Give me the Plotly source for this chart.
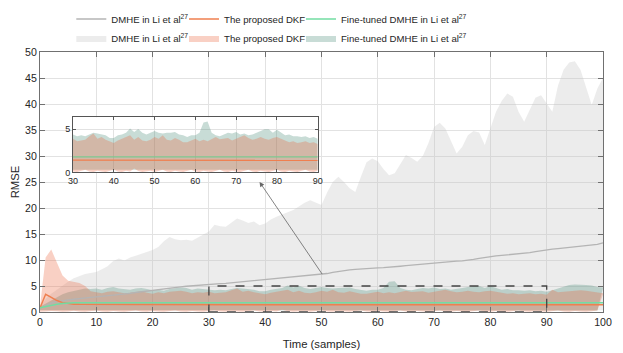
import plotly.graph_objects as go

t = list(range(101))

dmhe_mean = [0.8, 1.3, 1.7, 2.0, 2.2, 2.35, 2.45, 2.6, 2.7, 2.8, 2.9, 3.0, 3.1, 3.25, 3.4, 3.5, 3.6, 3.75, 3.9, 4.05, 4.2,
             4.3, 4.4, 4.55, 4.7, 4.85, 4.95, 5.05, 5.15, 5.25, 5.35, 5.4, 5.45, 5.5, 5.6, 5.7, 5.8, 5.9, 6.0, 6.1, 6.2,
             6.3, 6.4, 6.5, 6.6, 6.7, 6.8, 6.9, 7.0, 7.1, 7.2, 7.4, 7.6, 7.8, 7.95, 8.1, 8.2, 8.3, 8.4, 8.45, 8.5,
             8.55, 8.6, 8.7, 8.8, 8.9, 9.0, 9.1, 9.25, 9.4, 9.5, 9.6, 9.65, 9.7, 9.8, 9.85, 9.95, 10.1, 10.3, 10.5, 10.7,
             10.8, 10.9, 11.0, 11.05, 11.1, 11.2, 11.4, 11.6, 11.8, 12.0, 12.1, 12.2, 12.3, 12.4, 12.5, 12.6, 12.7, 12.8, 13.0, 13.3]

dkf_mean = [0.8, 3.4, 2.8, 2.2, 1.8, 1.6, 1.5, 1.47, 1.45, 1.45, 1.44, 1.44, 1.43, 1.43, 1.43, 1.42, 1.42, 1.42, 1.42, 1.42, 1.42,
            1.42, 1.42, 1.42, 1.42, 1.42, 1.42, 1.42, 1.42, 1.42, 1.42, 1.42, 1.42, 1.42, 1.42, 1.42, 1.42, 1.42, 1.42, 1.42, 1.42,
            1.42, 1.42, 1.42, 1.42, 1.42, 1.42, 1.42, 1.42, 1.42, 1.42, 1.42, 1.42, 1.42, 1.42, 1.42, 1.42, 1.41, 1.41, 1.41, 1.41,
            1.41, 1.41, 1.41, 1.41, 1.41, 1.41, 1.4, 1.4, 1.4, 1.4, 1.4, 1.4, 1.4, 1.4, 1.4, 1.4, 1.4, 1.4, 1.4, 1.4,
            1.4, 1.4, 1.4, 1.4, 1.4, 1.4, 1.4, 1.4, 1.4, 1.4, 1.4, 1.4, 1.4, 1.4, 1.4, 1.4, 1.4, 1.4, 1.4, 1.4, 1.4]

ft_mean = [0.8, 1.05, 1.3, 1.5, 1.65, 1.75, 1.78, 1.8, 1.8, 1.8, 1.8, 1.8, 1.8, 1.8, 1.8, 1.8, 1.8, 1.8, 1.8, 1.8, 1.8,
           1.8, 1.8, 1.8, 1.8, 1.8, 1.8, 1.8, 1.8, 1.8, 1.8, 1.8, 1.8, 1.8, 1.8, 1.8, 1.8, 1.8, 1.8, 1.8, 1.8,
           1.8, 1.8, 1.8, 1.8, 1.8, 1.8, 1.8, 1.8, 1.8, 1.8, 1.8, 1.8, 1.8, 1.8, 1.8, 1.8, 1.8, 1.8, 1.8, 1.8,
           1.8, 1.8, 1.8, 1.8, 1.8, 1.8, 1.8, 1.8, 1.8, 1.8, 1.8, 1.8, 1.8, 1.8, 1.8, 1.8, 1.8, 1.8, 1.8, 1.8,
           1.8, 1.8, 1.8, 1.8, 1.8, 1.8, 1.8, 1.8, 1.8, 1.8, 1.8, 1.8, 1.8, 1.8, 1.8, 1.8, 1.8, 1.8, 1.8, 1.8, 1.8]

dmhe_up = [1.0, 2.5, 3.5, 4.3, 5.0, 5.8, 6.5, 6.9, 7.3, 7.5, 7.7, 8.2, 8.8, 9.8, 10.3, 9.9, 10.5, 10.8, 11.2, 11.5, 11.9,
           12.5, 13.6, 14.4, 14.0, 13.8, 13.9, 13.7, 14.3, 14.8, 15.5, 16.8, 16.5, 16.4, 17.2, 18.0, 17.6, 17.1, 17.4, 16.7, 17.0,
           17.8, 18.3, 18.8, 19.2, 19.6, 20.3, 21.0, 21.5, 21.0, 20.6, 23.0, 25.0, 26.0, 25.0, 23.8, 23.1, 26.0, 28.8, 29.5, 29.0,
           27.5, 26.3, 26.7, 28.5, 30.2, 29.6, 28.9, 30.0, 32.5, 35.6, 36.4, 35.3, 33.0, 30.5, 31.8, 34.0, 34.8, 34.5, 32.1, 35.5,
           38.5, 40.6, 42.0, 41.4, 38.5, 36.6, 38.8, 41.2, 41.7, 40.0, 38.5, 43.5, 46.6, 48.0, 48.2, 46.6, 43.0, 39.8, 43.0, 45.0]

dmhe_lo = [0.35] * 101

dkf_up = [1.0, 10.5, 12.0, 9.5, 7.0, 6.0, 5.8, 5.6, 5.0, 4.0, 3.8, 3.6, 3.9, 4.0, 3.8, 3.6, 3.7, 3.9, 4.0, 3.7, 3.5,
          3.8, 3.6, 3.9, 4.0, 4.1, 3.9, 3.6, 3.8, 3.7, 3.9, 3.6, 3.7, 3.8, 4.2, 4.5, 3.9, 4.1, 3.8, 3.6, 3.4,
          3.7, 3.9, 4.1, 4.3, 3.8, 4.1, 3.7, 3.6, 3.8, 4.1, 3.9, 4.3, 3.8, 3.7, 4.0, 3.8, 3.5, 3.5, 3.7, 3.9,
          3.6, 3.8, 3.6, 3.9, 4.1, 3.85, 3.9, 4.0, 3.7, 3.9, 4.1, 4.3, 4.0, 3.8, 3.9, 4.1, 3.9, 3.8, 4.0, 4.1,
          3.9, 3.7, 3.5, 3.6, 3.4, 3.5, 3.6, 3.4, 3.5, 3.3, 4.3, 3.8, 3.9, 4.0, 4.1, 4.2, 4.1, 3.9, 3.8, 3.6, 3.4]

dkf_lo = [0.3, 0.1, 0.05, 0.1, 0.2, 0.15, 0.05, 0.1, 0.25, 0.1, 0.05, 0.15, 0.3, 0.1, 0.05, 0.2, 0.1, 0.05, 0.15, 0.3, 0.1,
          0.05, 0.2, 0.1, 0.05, 0.15, 0.3, 0.1, 0.05, 0.2, 0.1, 0.05, 0.15, 0.3, 0.1, 0.05, 0.2, 0.1, 0.05, 0.15, 0.3,
          0.1, 0.05, 0.2, 0.1, 0.45, 0.15, 0.05, 0.1, 0.2, 0.05, 0.15, 0.3, 0.1, 0.05, 0.2, 0.1, 0.05, 0.15, 0.3, 0.1,
          0.05, 0.2, 0.1, 0.05, 0.15, 0.3, 0.1, 0.05, 0.2, 0.1, 0.05, 0.15, 0.3, 0.1, 0.05, 0.2, 0.1, 0.05, 0.15, 0.3,
          0.1, 0.05, 0.2, 0.1, 0.05, 0.15, 0.3, 0.1, 0.05, 0.2, 0.1, 0.05, 0.15, 0.3, 0.1, 0.05, 0.2, 0.1, 0.05, 0.15, 0.3]

ft_up = [1.0, 1.6, 2.3, 2.9, 3.4, 3.8, 4.1, 4.3, 4.5, 4.4, 4.5, 4.3, 4.6, 4.8, 4.5, 4.4, 4.3, 4.5, 4.6, 4.4, 4.2,
         4.3, 4.1, 4.4, 4.5, 4.7, 4.6, 4.3, 4.5, 4.4, 4.4, 4.2, 4.3, 4.2, 4.4, 4.6, 4.5, 4.4, 4.3, 4.0, 4.0,
         4.3, 4.4, 4.6, 5.1, 4.7, 5.05, 4.6, 4.4, 4.6, 4.8, 4.6, 4.5, 4.6, 4.6, 4.7, 4.4, 4.3, 4.1, 4.3, 4.3,
         4.6, 5.8, 5.9, 4.6, 4.3, 4.2, 4.4, 4.6, 4.5, 4.7, 4.4, 4.5, 4.3, 4.4, 4.6, 4.8, 5.0, 5.0, 4.6, 4.95,
         4.6, 4.3, 4.4, 4.2, 4.2, 4.1, 4.2, 4.0, 4.1, 3.9, 4.2, 4.5, 4.9, 5.2, 5.3, 5.3, 5.2, 5.1, 4.8, 4.7, 4.6]

ft_lo = [0.6, 0.4, 0.35, 0.3, 0.3, 0.3, 0.3, 0.3, 0.3, 0.3, 0.3, 0.3, 0.3, 0.3, 0.3, 0.3, 0.3, 0.3, 0.3, 0.3, 0.3,
         0.3, 0.3, 0.3, 0.3, 0.3, 0.3, 0.3, 0.3, 0.3, 0.3, 0.3, 0.3, 0.3, 0.3, 0.3, 0.3, 0.3, 0.3, 0.3, 0.3,
         0.3, 0.3, 0.3, 0.3, 0.3, 0.3, 0.3, 0.3, 0.3, 0.3, 0.3, 0.3, 0.3, 0.3, 0.3, 0.3, 0.3, 0.3, 0.3, 0.3,
         0.3, 0.3, 0.3, 0.3, 0.3, 0.3, 0.3, 0.3, 0.3, 0.3, 0.3, 0.3, 0.3, 0.3, 0.3, 0.3, 0.3, 0.3, 0.3, 0.3,
         0.3, 0.3, 0.3, 0.3, 0.3, 0.3, 0.3, 0.3, 0.3, 0.3, 0.3, 0.3, 0.3, 0.3, 0.3, 0.3, 0.3, 0.3, 0.3, 0.3, 0.3]

name_dmhe = "DMHE in Li et al<sup>27</sup>"
name_dkf = "The proposed DKF"
name_ft = "Fine-tuned DMHE in Li et al<sup>27</sup>"

x_ticks = [0, 10, 20, 30, 40, 50, 60, 70, 80, 90, 100]
y_ticks = [0, 5, 10, 15, 20, 25, 30, 35, 40, 45, 50]
inset_x_ticks = [30, 40, 50, 60, 70, 80, 90]
inset_y_ticks = [0, 5]

C_GRAY_BAND = "rgba(192,192,192,0.3)"
C_GREEN_BAND = "rgba(72,138,118,0.3)"
C_PINK_BAND = "rgba(235,98,58,0.3)"
C_GRAY = "#b4b4b4"
C_ORANGE = "#ef7f4f"
C_GREEN = "#72dca2"

FONT = "Liberation Sans, Arial, sans-serif"


def band(x, up, lo):
    return list(x) + list(x)[::-1], list(up) + list(lo)[::-1]


fig = go.Figure()

# main bands (draw order: gray, green, pink)
for up, lo, col, nm, lg in [(dmhe_up, dmhe_lo, C_GRAY_BAND, name_dmhe, "legend2"),
                            (ft_up, ft_lo, C_GREEN_BAND, name_ft, "legend6"),
                            (dkf_up, dkf_lo, C_PINK_BAND, name_dkf, "legend5")]:
    bx, by = band(t, up, lo)
    fig.add_trace(go.Scatter(x=bx, y=by, fill="toself", fillcolor=col, mode="lines",
                             line=dict(width=0, color=col), name=nm, legend=lg,
                             hoverinfo="skip"))

# main lines
fig.add_trace(go.Scatter(x=t, y=dmhe_mean, mode="lines", line=dict(color=C_GRAY, width=1.3),
                         name=name_dmhe, legend="legend"))
fig.add_trace(go.Scatter(x=t, y=dkf_mean, mode="lines", line=dict(color=C_ORANGE, width=1.5),
                         name=name_dkf, legend="legend3"))
fig.add_trace(go.Scatter(x=t, y=ft_mean, mode="lines", line=dict(color=C_GREEN, width=1.5),
                         name=name_ft, legend="legend4"))

# inset
i0, i1 = 30, 91
ti = t[i0:i1]
for up, lo, col in [(ft_up, ft_lo, C_GREEN_BAND), (dkf_up, dkf_lo, C_PINK_BAND)]:
    bx, by = band(ti, up[i0:i1], lo[i0:i1])
    fig.add_trace(go.Scatter(x=bx, y=by, fill="toself", fillcolor=col, mode="lines",
                             line=dict(width=0, color=col), showlegend=False,
                             xaxis="x2", yaxis="y2", hoverinfo="skip"))
fig.add_trace(go.Scatter(x=ti, y=dkf_mean[i0:i1], mode="lines", line=dict(color=C_ORANGE, width=1.3),
                         showlegend=False, xaxis="x2", yaxis="y2"))
fig.add_trace(go.Scatter(x=ti, y=ft_mean[i0:i1], mode="lines", line=dict(color="#7cc890", width=1.3),
                         showlegend=False, xaxis="x2", yaxis="y2"))

axis_common = dict(showline=True, linecolor="#707070", linewidth=1, mirror="ticks", ticks="inside",
                   ticklen=5, tickcolor="#707070", showgrid=True, gridcolor="#e2e2e2", gridwidth=1,
                   zeroline=False, tickfont=dict(size=10.6, color="#262626", family=FONT))

leg_common = dict(orientation="h", xanchor="left", yanchor="middle", font=dict(size=9.6, color="#262626"),
                  bgcolor="rgba(0,0,0,0)", itemwidth=30)

col_x = [0.0556, 0.2558, 0.4636]
row_y = [1.127, 1.054]

fig.update_layout(
    width=623, height=353,
    margin=dict(l=40, r=20, t=52, b=41, autoexpand=False),
    paper_bgcolor="white", plot_bgcolor="white",
    font=dict(family=FONT, size=11, color="#262626"),
    xaxis=dict(range=[0, 100], tickvals=x_ticks, domain=[0, 1],
               title=dict(text="Time (samples)", font=dict(size=11.3), standoff=13), **axis_common),
    yaxis=dict(range=[0, 50], tickvals=y_ticks, domain=[0, 1],
               title=dict(text="RMSE", font=dict(size=11.3), standoff=3), **axis_common),
    xaxis2=dict(range=[30, 90], tickvals=inset_x_ticks, domain=[0.0586, 0.4933], anchor="y2",
                showline=True, linecolor="#555", mirror="ticks", ticks="inside", ticklen=3, tickcolor="#555",
                showgrid=True, gridcolor="#e2e2e2", zeroline=False,
                tickfont=dict(size=9, color="#262626")),
    yaxis2=dict(range=[0, 6.4], tickvals=inset_y_ticks, domain=[0.537, 0.749], anchor="x2",
                showline=True, linecolor="#555", mirror="ticks", ticks="inside", ticklen=3, tickcolor="#555",
                showgrid=True, gridcolor="#e2e2e2", zeroline=False,
                tickfont=dict(size=9, color="#262626")),
    legend=dict(x=col_x[0], y=row_y[0], **leg_common),
    legend3=dict(x=col_x[1], y=row_y[0], **leg_common),
    legend4=dict(x=col_x[2], y=row_y[0], **leg_common),
    legend2=dict(x=col_x[0], y=row_y[1], **leg_common),
    legend5=dict(x=col_x[1], y=row_y[1], **leg_common),
    legend6=dict(x=col_x[2], y=row_y[1], **leg_common),
    showlegend=True,
    shapes=[
        dict(type="rect", xref="x2 domain", yref="y2 domain", x0=0, x1=1, y0=0, y1=1,
             fillcolor="white", line=dict(width=0), layer="below"),
        dict(type="rect", xref="x", yref="y", x0=30, x1=90, y0=0, y1=5,
             line=dict(color="#444", width=1.3, dash="dash"), fillcolor="rgba(0,0,0,0)", layer="above"),
    ],
    annotations=[
        dict(x=39, y=25, ax=50.3, ay=7.0, xref="x", yref="y", axref="x", ayref="y",
             showarrow=True, text="", arrowhead=2, arrowsize=1.2, arrowwidth=0.8, arrowcolor="#666"),
    ],
)

fig.write_html("out.html", config={"displayModeBar": False},
               post_script="document.body.style.margin='0';document.body.style.overflow='hidden';")
